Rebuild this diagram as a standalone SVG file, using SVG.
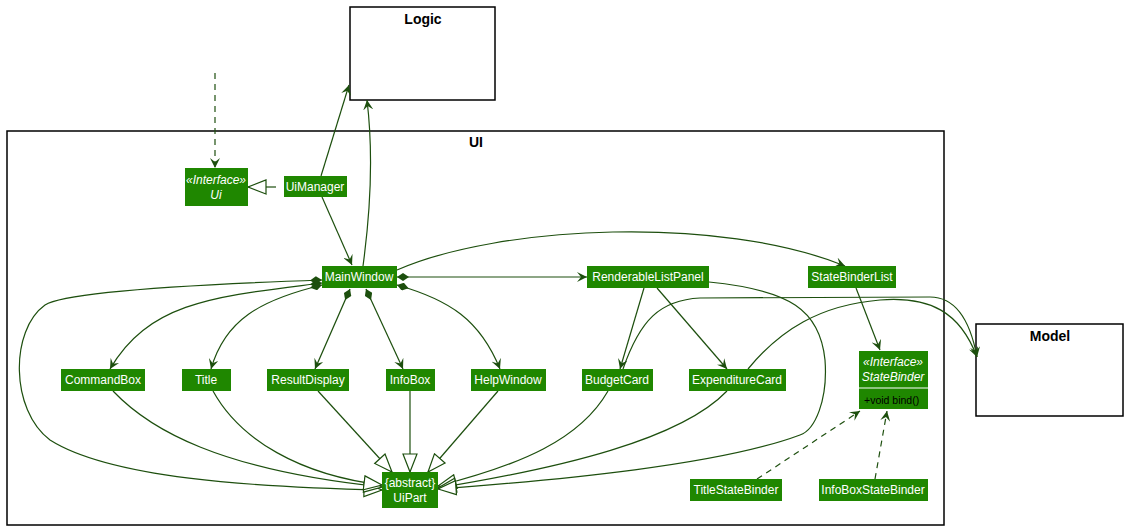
<svg xmlns="http://www.w3.org/2000/svg" width="1128" height="530" viewBox="0 0 1128 530">
<style>
.pkg{fill:#fff;stroke:#000;stroke-width:1.5}
.pl{font-family:"Liberation Sans",Arial,sans-serif;font-size:14px;font-weight:bold;fill:#000;text-anchor:middle}
.n{fill:#1F8700}
.t{font-family:"Liberation Sans",Arial,sans-serif;font-size:12px;fill:#fff;text-anchor:middle}
.i{font-style:italic}
.e{fill:none;stroke:#1D4F0E;stroke-width:1.2}
.d{stroke-dasharray:6,5}
.a{marker-end:url(#arr)}
.g{marker-end:url(#tri)}
.c{marker-start:url(#dia)}
</style>
<defs>
<marker id="arr" viewBox="0 0 10 10" refX="10" refY="5" markerWidth="10" markerHeight="10" markerUnits="userSpaceOnUse" orient="auto">
<path d="M0,0 L10,5 L0,10 L4,5 Z" fill="#1D4F0E"/>
</marker>
<marker id="tri" viewBox="-1 -1 20 16" refX="18" refY="7" markerWidth="20" markerHeight="16" markerUnits="userSpaceOnUse" orient="auto">
<path d="M0,0 L18,7 L0,14 Z" fill="#fff" stroke="#1D4F0E" stroke-width="1.2"/>
</marker>
<marker id="dia" viewBox="0 0 12 8" refX="0" refY="4" markerWidth="12" markerHeight="8" markerUnits="userSpaceOnUse" orient="auto">
<path d="M0,4 L6,0 L12,4 L6,8 Z" fill="#1D4F0E"/>
</marker>
</defs>
<rect width="1128" height="530" fill="#fff"/>
<g id="pkg-logic"><rect class="pkg" x="350" y="7" width="145" height="93"/><text class="pl" x="423" y="24">Logic</text></g>
<g id="pkg-ui"><rect class="pkg" x="7" y="131" width="937" height="394"/><text class="pl" x="476" y="147">UI</text></g>
<g id="pkg-model"><rect class="pkg" x="976" y="324" width="147" height="92"/><text class="pl" x="1050" y="341">Model</text></g>
<g id="connectors">
<path class="e d a" d="M215,73 L215,168"/>
<path class="e g" d="M276,187 L248,187"/>
<path class="e a" d="M321,176 L349,85"/>
<path class="e a" d="M363,266 C372,200 373,150 367,100"/>
<path class="e a" d="M322,197 L352,265"/>
<path class="e c a" d="M397,277 L587,277"/>
<path class="e a" d="M397,270 C500,225 720,215 845,266"/>
<path class="e c a" d="M322,283 C220,296 150,300 110,369"/>
<path class="e c a" d="M322,285 C260,300 225,320 211,369"/>
<path class="e c a" d="M350,289 L315,369"/>
<path class="e c a" d="M366,289 L403,369"/>
<path class="e c a" d="M397,285 C450,300 480,320 500,369"/>
<path class="e c g" d="M322,280 C150,286 60,295 45,305 C10,330 10,410 50,440 C110,478 250,487 382,490"/>
<path class="e g" d="M113,391 C150,430 220,470 382,487"/>
<path class="e g" d="M213,391 C240,440 300,475 382,485"/>
<path class="e g" d="M318,391 L392,472"/>
<path class="e g" d="M410,391 L410,472"/>
<path class="e g" d="M498,391 L428,472"/>
<path class="e g" d="M608,391 C580,440 520,465 438,486"/>
<path class="e g" d="M727,391 C680,440 560,468 438,488"/>
<path class="e g" d="M709,282 C790,290 820,310 825,360 C828,400 815,430 800,435 C720,465 560,480 438,489"/>
<path class="e a" d="M644,288 L620,369"/>
<path class="e a" d="M657,288 L727,369"/>
<path class="e a" d="M856,288 L880,350"/>
<path class="e a" d="M623,369 C640,320 660,300 700,298 L930,297 C955,297 970,320 977,357"/>
<path class="e a" d="M748,369 C780,330 820,305 880,300 C930,296 960,312 977,357"/>
<path class="e d a" d="M757,479 L860,411"/>
<path class="e d a" d="M875,479 L887,411"/>
</g>
<g id="Ui"><rect class="n" x="185" y="168" width="63" height="38"/><text class="t i" x="216" y="184">«Interface»</text><text class="t i" x="216" y="199">Ui</text></g>
<g id="UiManager"><rect class="n" x="284" y="176" width="63" height="21"/><text class="t" x="315" y="191">UiManager</text></g>
<g id="MainWindow"><rect class="n" x="322" y="266" width="75" height="22"/><text class="t" x="359" y="281">MainWindow</text></g>
<g id="RenderableListPanel"><rect class="n" x="587" y="266" width="122" height="22"/><text class="t" x="648" y="281">RenderableListPanel</text></g>
<g id="StateBinderList"><rect class="n" x="808" y="266" width="88" height="22"/><text class="t" x="852" y="281">StateBinderList</text></g>
<g id="CommandBox"><rect class="n" x="61" y="369" width="84" height="22"/><text class="t" x="103" y="384">CommandBox</text></g>
<g id="Title"><rect class="n" x="182" y="369" width="49" height="22"/><text class="t" x="206" y="384">Title</text></g>
<g id="ResultDisplay"><rect class="n" x="267" y="369" width="82" height="22"/><text class="t" x="308" y="384">ResultDisplay</text></g>
<g id="InfoBox"><rect class="n" x="386" y="369" width="49" height="22"/><text class="t" x="410" y="384">InfoBox</text></g>
<g id="HelpWindow"><rect class="n" x="471" y="369" width="75" height="22"/><text class="t" x="508" y="384">HelpWindow</text></g>
<g id="BudgetCard"><rect class="n" x="582" y="369" width="71" height="22"/><text class="t" x="617" y="384">BudgetCard</text></g>
<g id="ExpenditureCard"><rect class="n" x="689" y="369" width="97" height="22"/><text class="t" x="737" y="384">ExpenditureCard</text></g>
<g id="StateBinder"><rect class="n" x="859" y="351" width="69" height="58"/><line x1="859" y1="388" x2="928" y2="388" stroke="#fff" stroke-width="1"/><text class="t i" x="893" y="366">«Interface»</text><text class="t i" x="893" y="381">StateBinder</text><text x="864" y="404" font-family="Liberation Sans, Arial, sans-serif" font-size="10.5" fill="#000">+void bind()</text></g>
<g id="UiPart"><rect class="n" x="382" y="472" width="56" height="36"/><text class="t" x="410" y="487">{abstract}</text><text class="t" x="410" y="502">UiPart</text></g>
<g id="TitleStateBinder"><rect class="n" x="690" y="479" width="92" height="22"/><text class="t" x="736" y="494">TitleStateBinder</text></g>
<g id="InfoBoxStateBinder"><rect class="n" x="819" y="479" width="109" height="22"/><text class="t" x="873" y="494">InfoBoxStateBinder</text></g>
</svg>
